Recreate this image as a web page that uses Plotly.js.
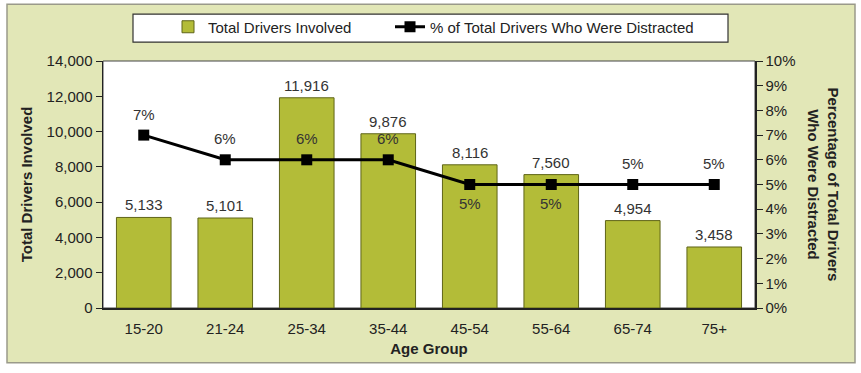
<!DOCTYPE html>
<html>
<head>
<meta charset="utf-8">
<script src="https://cdn.plot.ly/plotly-3.0.1.min.js"></script>
<style>html,body{margin:0;padding:0;background:#fff;}#chart{width:861px;height:373px;}</style>
</head>
<body>
<div id="chart"></div>
<script>
const ageGroups = ['15-20', '21-24', '25-34', '35-44', '45-54', '55-64', '65-74', '75+'];
const totalDrivers = [5133, 5101, 11916, 9876, 8116, 7560, 4954, 3458];
const pctDistracted = [7, 6, 6, 6, 5, 5, 5, 5];
const pctLabelBelow = [false, false, false, false, true, true, false, false];

const FONT = 'Liberation Sans, Arial, sans-serif';
const FS = 15;

const barTrace = {
  type: 'bar',
  name: 'Total Drivers Involved',
  x: ageGroups,
  y: totalDrivers,
  legend: 'legend',
  marker: {color: '#b3bc38', line: {color: '#5f6418', width: 1}},
  hoverinfo: 'x+y'
};
const lineTrace = {
  type: 'scatter',
  mode: 'lines+markers',
  name: '% of Total Drivers Who Were Distracted',
  x: ageGroups,
  y: pctDistracted,
  yaxis: 'y2',
  legend: 'legend2',
  line: {color: '#000', width: 3},
  marker: {symbol: 'square', size: 11, color: '#000'}
};

const annotations = [];
ageGroups.forEach((g, i) => {
  annotations.push({
    x: g, y: totalDrivers[i], xref: 'x', yref: 'y',
    text: totalDrivers[i].toLocaleString('en-US'),
    showarrow: false, yanchor: 'bottom', yshift: 2,
    font: {family: FONT, size: FS, color: '#333'}
  });
  annotations.push({
    x: g, y: pctDistracted[i], xref: 'x', yref: 'y2',
    text: pctDistracted[i] + '%',
    showarrow: false, yanchor: 'middle', yshift: pctLabelBelow[i] ? -19 : 21,
    font: {family: FONT, size: FS, color: '#333'}
  });
});
annotations.push({
  xref: 'paper', yref: 'paper', x: (823 - 103) / 652, y: 0.5,
  xanchor: 'center', yanchor: 'middle',
  text: '<b>Percentage of Total Drivers<br>Who Were Distracted</b>',
  textangle: 90, showarrow: false,
  font: {family: FONT, size: FS, color: '#222'}
});

const px = v => (v - 103) / 652;
const py = v => (308 - v) / 248;

const legendBase = {
  orientation: 'h', xanchor: 'left', y: py(27), yanchor: 'middle',
  bgcolor: 'rgba(0,0,0,0)', borderwidth: 0,
  font: {family: FONT, size: FS, color: '#222'},
  itemclick: false, itemdoubleclick: false
};

const layout = {
  width: 861, height: 373,
  margin: {l: 103, r: 106, t: 60, b: 65},
  paper_bgcolor: '#ffffff',
  plot_bgcolor: 'rgba(0,0,0,0)',
  font: {family: FONT, size: FS, color: '#222'},
  bargap: 0.33,
  showlegend: true,
  legend: Object.assign({}, legendBase, {x: px(168)}),
  legend2: Object.assign({}, legendBase, {x: px(390)}),
  xaxis: {
    type: 'category',
    showline: true, linecolor: '#222', linewidth: 1.5,
    mirror: false, ticks: 'outside', ticklen: 6, tickcolor: 'rgba(0,0,0,0)', showgrid: false,
    tickfont: {family: FONT, size: FS, color: '#222'},
    title: {text: '<b>Age Group</b>', font: {family: FONT, size: FS, color: '#222'}, standoff: 8}
  },
  yaxis: {
    range: [0, 14000], dtick: 2000, tickformat: ',d',
    showline: true, linecolor: '#222', linewidth: 1.5,
    ticks: 'outside', ticklen: 6, tickcolor: '#222',
    showgrid: false, zeroline: false,
    tickfont: {family: FONT, size: FS, color: '#222'},
    title: {text: '<b>Total Drivers Involved</b>', font: {family: FONT, size: FS, color: '#222'}, standoff: 10}
  },
  yaxis2: {
    overlaying: 'y', side: 'right',
    range: [0, 10], dtick: 1, ticksuffix: '%',
    showline: true, linecolor: '#222', linewidth: 1.5,
    ticks: 'outside', ticklen: 6, tickcolor: '#222',
    showgrid: false, zeroline: false,
    tickfont: {family: FONT, size: FS, color: '#222'}
  },
  shapes: [
    {type: 'rect', xref: 'paper', yref: 'paper', layer: 'below',
     x0: px(7), x1: px(855), y0: py(363), y1: py(3),
     fillcolor: '#e2e7b7', line: {color: '#9a9a8a', width: 1.5}},
    {type: 'rect', xref: 'paper', yref: 'paper', layer: 'below',
     x0: 0, x1: 1, y0: 0, y1: 1,
     fillcolor: '#ffffff', line: {color: '#444', width: 1}},
    {type: 'rect', xref: 'paper', yref: 'paper', layer: 'below',
     x0: px(133), x1: px(728), y0: py(41), y1: py(13),
     fillcolor: '#ffffff', line: {color: '#333', width: 1.2}}
  ],
  annotations: annotations
};

Plotly.newPlot('chart', [barTrace, lineTrace], layout, {displayModeBar: false, staticPlot: true});
</script>
</body>
</html>
